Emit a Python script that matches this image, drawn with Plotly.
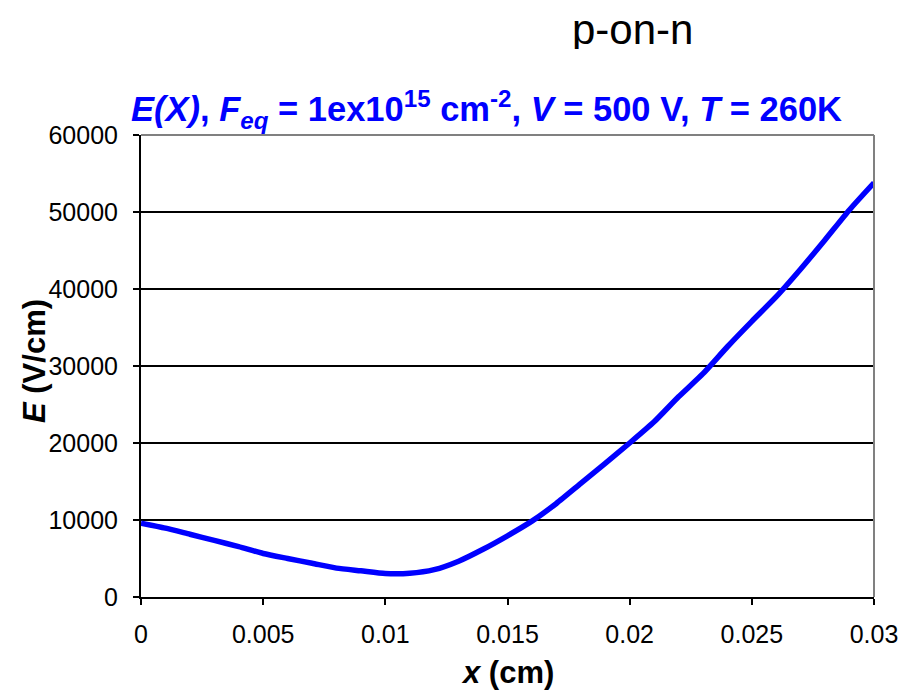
import plotly.graph_objects as go

x_cm = [0.000, 0.001, 0.002, 0.003, 0.004, 0.005, 0.006, 0.007, 0.008, 0.009,
        0.010, 0.011, 0.012, 0.013, 0.014, 0.015, 0.016, 0.017, 0.018, 0.019,
        0.020, 0.021, 0.022, 0.023, 0.024, 0.025, 0.026, 0.027, 0.028, 0.029, 0.030]
E_vcm = [9600, 8950, 8150, 7350, 6550, 5650, 5000, 4380, 3750, 3400,
         3050, 3080, 3550, 4650, 6200, 7950, 9850, 12150, 14750, 17350,
         20000, 22750, 26000, 29000, 32500, 35800, 39000, 42600, 46400, 50300, 53800]

x_ticks = [0, 0.005, 0.01, 0.015, 0.02, 0.025, 0.03]
x_ticktext = ["0", "0.005", "0.01", "0.015", "0.02", "0.025", "0.03"]
y_ticks = [0, 10000, 20000, 30000, 40000, 50000, 60000]
y_ticktext = ["0", "10000", "20000", "30000", "40000", "50000", "60000"]

FONT = "Arial, Liberation Sans, sans-serif"

# page body has an 8px margin, so the figure is drawn 8px in from the window corner
OFF = 8
L, R, T, B = 141, 874, 135, 597   # plot area in window pixels
PW, PH = R - L, B - T

fig = go.Figure()
fig.add_trace(go.Scatter(x=x_cm, y=E_vcm, mode="lines",
                         line=dict(color="#0000FF", width=5.5, shape="spline", smoothing=0.6),
                         showlegend=False, hoverinfo="skip"))

fig.update_layout(
    width=911 - OFF, height=691 - OFF,
    margin=dict(l=L - OFF, r=911 - R, t=T - OFF, b=691 - B, autoexpand=False),
    paper_bgcolor="white", plot_bgcolor="white",
    font=dict(family=FONT, color="black", size=25),
)
fig.update_xaxes(range=[0, 0.03], tickvals=x_ticks, ticktext=x_ticktext,
                 showgrid=False, zeroline=False, showline=True, linecolor="black", linewidth=2,
                 ticks="outside", ticklen=6, tickwidth=1.5, tickcolor="black",
                 tickfont=dict(size=25, family=FONT), ticklabelstandoff=8)
fig.update_yaxes(range=[0, 60000], tickvals=y_ticks, ticktext=y_ticktext,
                 showgrid=True, gridcolor="black", gridwidth=1.5, zeroline=False,
                 showline=True, linecolor="black", linewidth=2,
                 ticks="outside", ticklen=6, tickwidth=1.5, tickcolor="black",
                 tickfont=dict(size=25, family=FONT), ticklabelstandoff=10)

# gray top/right frame
fig.add_shape(type="line", xref="paper", yref="paper", x0=0, x1=1, y0=1, y1=1,
              line=dict(color="#808080", width=2))
fig.add_shape(type="line", xref="paper", yref="paper", x0=1, x1=1, y0=0, y1=1,
              line=dict(color="#808080", width=2))

def px(xw):
    return (xw - L) / PW

def py(yw):
    return (B - yw) / PH

fig.add_annotation(text="p-on-n", xref="paper", yref="paper",
                   x=px(632), y=py(29), xanchor="center", yanchor="middle",
                   height=40, valign="middle",
                   showarrow=False, font=dict(size=42, family=FONT, color="black"))
fig.add_annotation(text="<b><i>E(X)</i>, <i>F<sub>eq</sub></i> = 1ex10<sup>15</sup> cm<sup>-2</sup>, "
                        "<i>V</i> = 500 V, <i>T</i> = 260K</b>",
                   xref="paper", yref="paper",
                   x=px(486), y=py(110), xanchor="center", yanchor="middle",
                   showarrow=False, font=dict(size=34.5, family=FONT, color="#0000FF"))
fig.add_annotation(text="<b><i>x</i> (cm)</b>", xref="paper", yref="paper",
                   x=0.5, y=py(672), xanchor="center", yanchor="middle",
                   showarrow=False, font=dict(size=31, family=FONT, color="black"))
fig.add_annotation(text="<b><i>E</i> (V/cm)</b>", xref="paper", yref="paper",
                   x=px(34), y=py(361), xanchor="center", yanchor="middle",
                   textangle=-90, showarrow=False, font=dict(size=31, family=FONT, color="black"))

fig.write_html("out.html")
